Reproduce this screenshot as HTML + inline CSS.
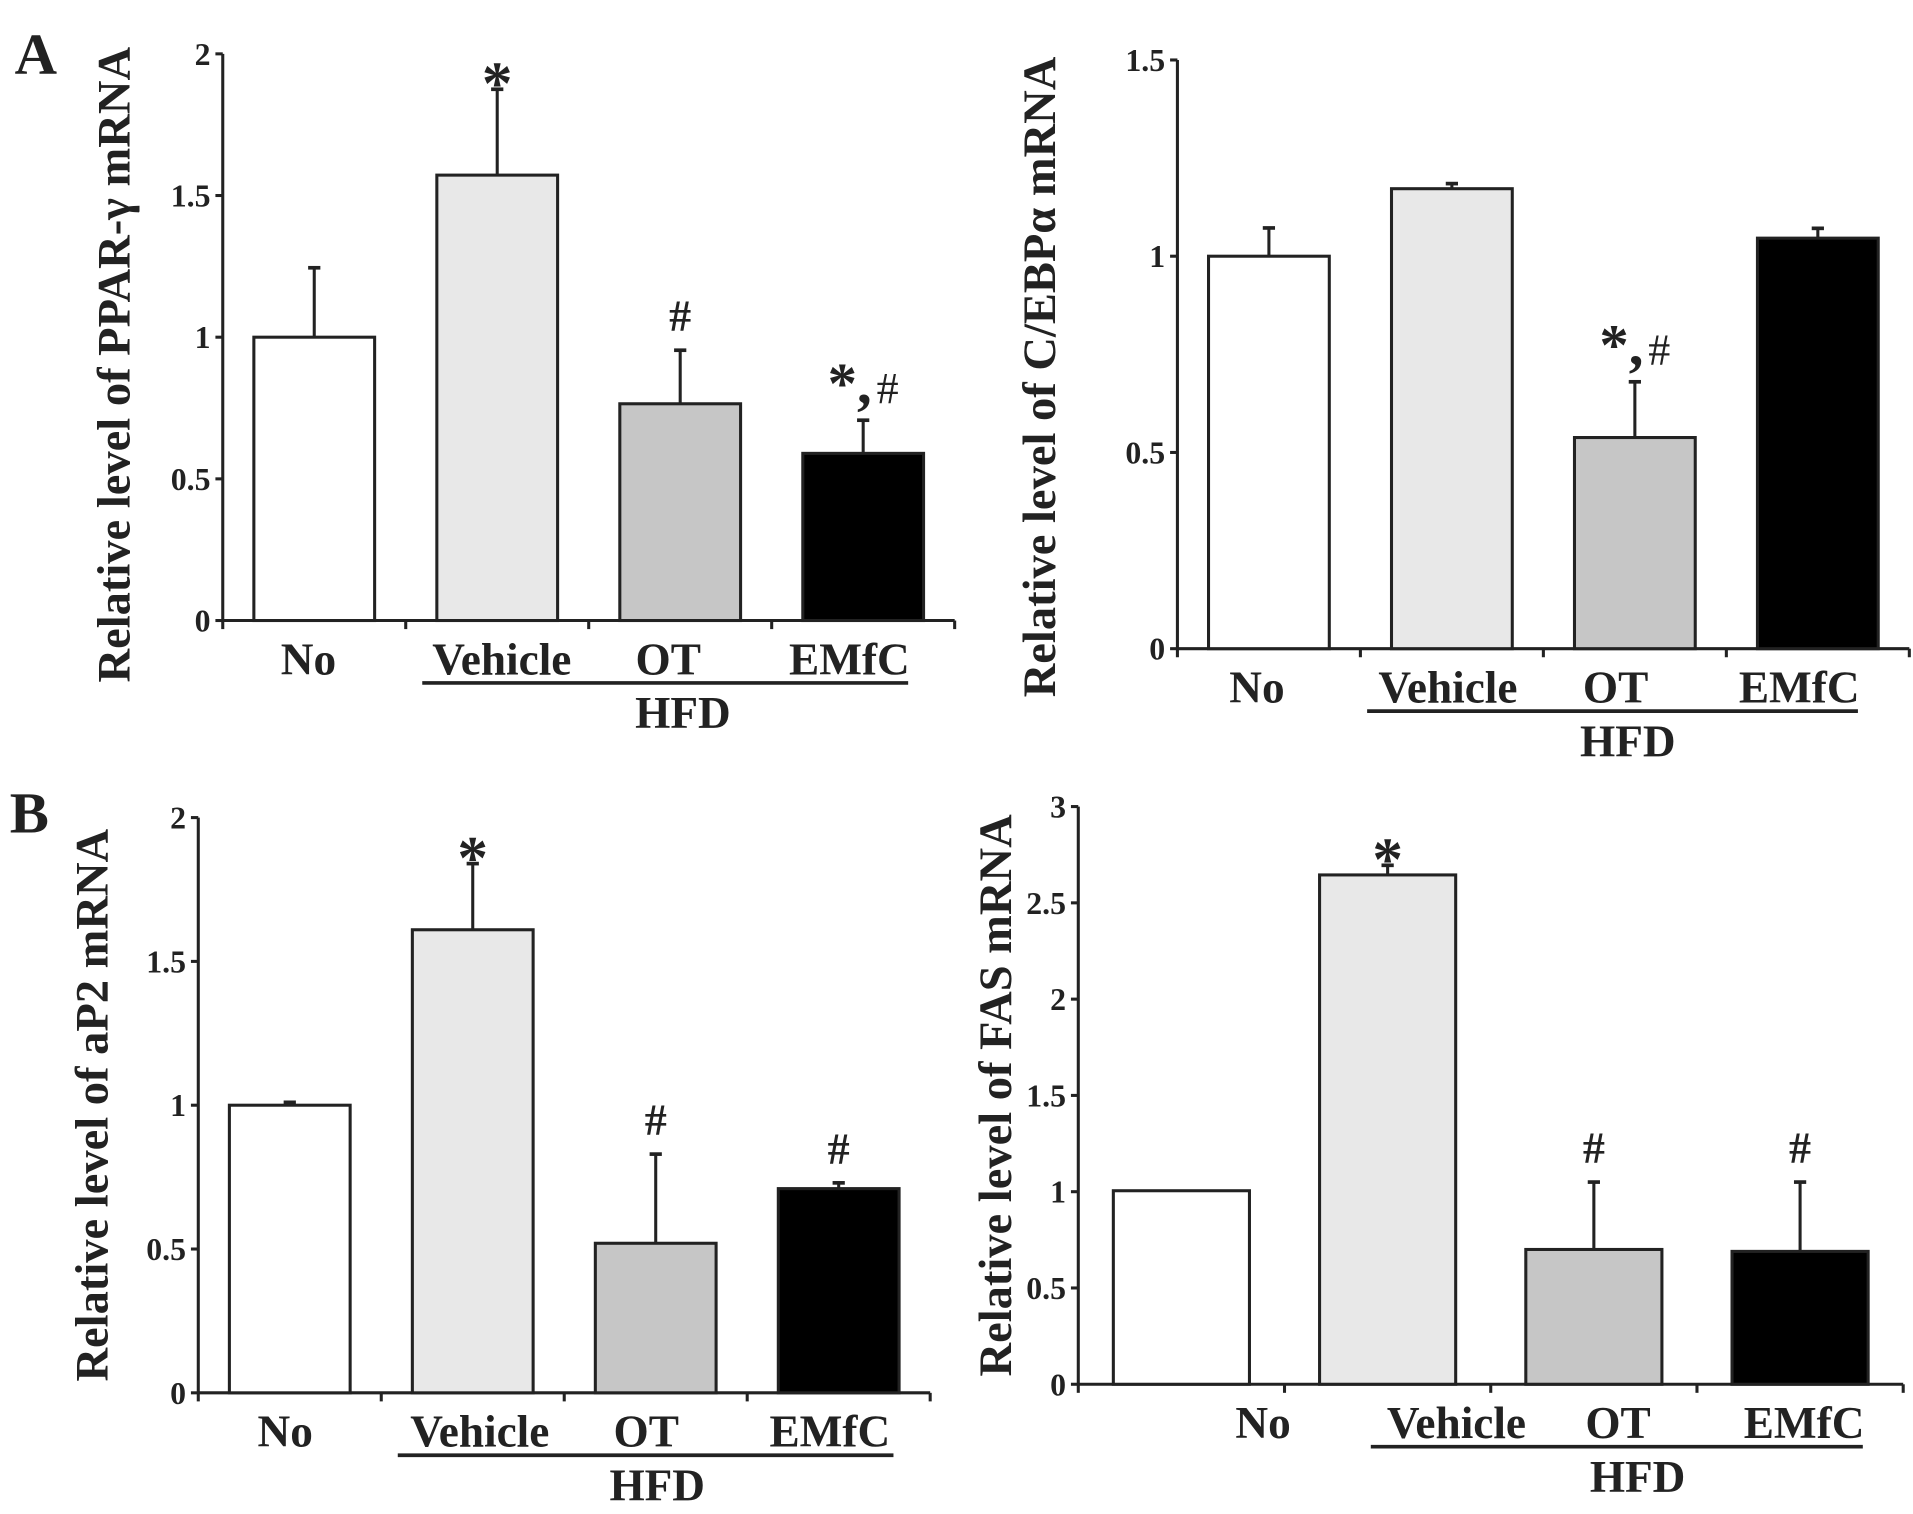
<!DOCTYPE html>
<html><head><meta charset="utf-8">
<style>
html,body{margin:0;padding:0;background:#fff;}
svg{display:block;}
text{font-family:"Liberation Serif",serif;font-weight:bold;fill:#222;}
</style></head>
<body>
<svg id="fig" width="1913" height="1514" viewBox="0 0 1563 1237" preserveAspectRatio="none" xmlns="http://www.w3.org/2000/svg">
<text x="12" y="60" font-size="48">A</text>
<text x="8" y="680" font-size="48">B</text>
</svg>
<script>
const categories = ["No", "Vehicle", "OT", "EMfC"];
const colors = ["#ffffff", "#e8e8e8", "#c6c6c6", "#000000"];
const pparValues = [1.0, 1.572, 0.765, 0.59];
const pparErrors = [1.245, 1.875, 0.954, 0.707];
const pparMarks = ["", "*", "#", "*,#"];
const pparTicks = ["0", "0.5", "1", "1.5", "2"];
const cebpValues = [1.0, 1.172, 0.538, 1.046];
const cebpErrors = [1.072, 1.185, 0.68, 1.071];
const cebpMarks = ["", "", "*,#", ""];
const cebpTicks = ["0", "0.5", "1", "1.5"];
const ap2Values = [1.0, 1.61, 0.52, 0.71];
const ap2Errors = [1.01, 1.84, 0.83, 0.73];
const ap2Marks = ["", "*", "#", "#"];
const ap2Ticks = ["0", "0.5", "1", "1.5", "2"];
const fasValues = [1.005, 2.645, 0.70, 0.69];
const fasErrors = [1.005, 2.695, 1.05, 1.05];
const fasMarks = ["", "*", "#", "#"];
const fasTicks = ["0", "0.5", "1", "1.5", "2", "2.5", "3"];

const NS = "http://www.w3.org/2000/svg";
const svg = document.getElementById("fig");
function mk(tag, attrs, parent){
  const e = document.createElementNS(NS, tag);
  for (const k in attrs) e.setAttribute(k, attrs[k]);
  (parent||svg).appendChild(e);
  return e;
}

function panel(p){
  const g = mk("g", {});
  
  
  const ymax = parseFloat(p.ticks[p.ticks.length-1]);
  const yS = v => p.y0 - (v / ymax) * (p.y0 - p.yTop);
  const slot = (p.x1 - p.x0) / categories.length;
  const xS = i => p.x0 + i * slot;
  const ya = mk("line", {x1:p.x0, y1:p.yTop, x2:p.x0, y2:p.y0, stroke:"#222", "stroke-width":2.5}, g);
  
  
  p.ticks.forEach(t => {
    const y = yS(parseFloat(t));
    mk("line", {x1:p.x0-6, y1:y, x2:p.x0, y2:y, stroke:"#222", "stroke-width":2.5}, g);
    const tl = mk("text", {x:p.x0-10, y:y+9, "font-size":26, "text-anchor":"end", fill:"#333"}, g);
    tl.textContent = t;
    
    
  });
  const xa = mk("line", {x1:p.x0, y1:p.y0, x2:p.x1, y2:p.y0, stroke:"#222", "stroke-width":2.5}, g);
  
  
  for (let i = 0; i <= categories.length; i++) {
    mk("line", {x1:xS(i), y1:p.y0, x2:xS(i), y2:p.y0+7, stroke:"#222", "stroke-width":2.5}, g);
  }
  categories.forEach((c, i) => {
    const bx = xS(i) + slot * 0.17, bw = slot * 0.66;
    const top = yS(p.values[i]);
    const eTop = yS(p.errors[i]);
    const cx = bx + bw / 2;
    if (p.errors[i] > p.values[i]) {
      const el = mk("line", {x1:cx, y1:top, x2:cx, y2:eTop, stroke:"#222", "stroke-width":2.5}, g);
      
      
      mk("line", {x1:cx-5, y1:eTop, x2:cx+5, y2:eTop, stroke:"#222", "stroke-width":3}, g);
    }
    const r = mk("rect", {x:bx, y:top, width:bw, height:p.y0-top, fill:colors[i], stroke:"#222", "stroke-width":2.5}, g);
    
    
    const m = p.marks[i];
    if (m) {
      const t = mk("text", {x:cx, "text-anchor":"middle"}, g);
      
      
      if (m === "*") {
        t.setAttribute("y", eTop + 12); t.setAttribute("font-size", 50); t.textContent = "*";
      } else if (m === "#") {
        t.setAttribute("y", eTop - 16); t.setAttribute("font-size", 36); t.setAttribute("font-weight", "normal"); t.textContent = "#";
      } else {
        const s1 = mk("tspan", {"font-size":48}, t); s1.textContent = "*,";
        const s2 = mk("tspan", {"font-size":36, "font-weight":"normal", dx:4}, t); s2.textContent = "#";
        t.setAttribute("y", eTop - 14);
      }
    }
    const lab = mk("text", {x:p.labX[i], y:p.y0+44, "font-size":37, "text-anchor":"middle"}, g);
    lab.textContent = c;
    
    
  });
  const ul = mk("line", {x1:p.ulX[0], y1:p.y0+51, x2:p.ulX[1], y2:p.y0+51, stroke:"#222", "stroke-width":3}, g);
  
  
  const hfd = mk("text", {x:p.hfdX, y:p.y0+88, "font-size":37, "text-anchor":"middle"}, g);
  hfd.textContent = "HFD";
  
  
  const yt = mk("text", {x:0, y:0, "font-size":38, "text-anchor":"middle", transform:`translate(${p.titleX},${p.titleY}) rotate(-90)`}, g);
  yt.textContent = p.title;
  
  
}

panel({name:"chart-ppar-gamma", x0:182, x1:780, y0:507, yTop:44, ticks:pparTicks, values:pparValues, errors:pparErrors, marks:pparMarks,
  labX:[252,410,546,694], ulX:[345,742], hfdX:558, titleX:106, titleY:298, title:"Relative level of PPAR-\u03B3 mRNA"});
panel({name:"chart-cebp-alpha", x0:962, x1:1560, y0:530, yTop:49, ticks:cebpTicks, values:cebpValues, errors:cebpErrors, marks:cebpMarks,
  labX:[1027,1183,1320,1470], ulX:[1117,1518], hfdX:1330, titleX:862, titleY:308, title:"Relative level of C/EBP\u03B1 mRNA"});
panel({name:"chart-ap2", x0:162, x1:760, y0:1138, yTop:668, ticks:ap2Ticks, values:ap2Values, errors:ap2Errors, marks:ap2Marks,
  labX:[233,392,528,678], ulX:[325,730], hfdX:537, titleX:88, titleY:903, title:"Relative level of aP2 mRNA"});
panel({name:"chart-fas", x0:881, x1:1555, y0:1131, yTop:659, ticks:fasTicks, values:fasValues, errors:fasErrors, marks:fasMarks,
  labX:[1032,1190,1322,1474], ulX:[1120,1522], hfdX:1338, titleX:826, titleY:895, title:"Relative level of FAS mRNA"});
</script>
</body></html>
